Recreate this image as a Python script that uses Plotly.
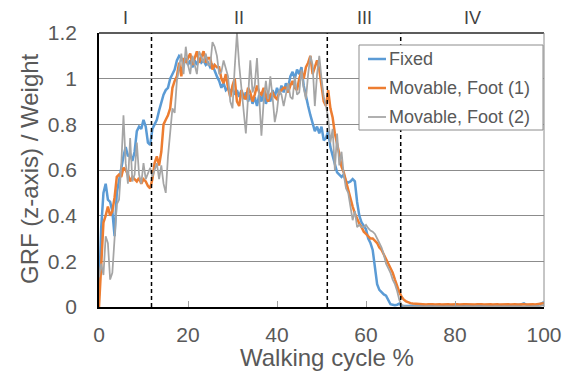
import plotly.graph_objects as go

# ---- data (x grid: walking cycle % sampled every 0.5 %) ----
walking_cycle = [i * 0.5 for i in range(201)]

fixed = [
    0.05, 0.35, 0.50, 0.54, 0.47, 0.46, 0.42, 0.31, 0.50, 0.56,
    0.62, 0.66, 0.70, 0.66, 0.67, 0.64, 0.68, 0.77, 0.79, 0.78,
    0.82, 0.79, 0.72, 0.71, 0.78, 0.80, 0.82, 0.86, 0.90, 0.93,
    0.95, 0.96, 1.00, 1.02, 1.04, 1.08, 1.10, 1.09, 1.07, 1.09,
    1.06, 1.08, 1.05, 1.08, 1.06, 1.09, 1.07, 1.08, 1.06, 1.07,
    1.05, 1.06, 1.03, 1.01, 0.99, 0.96, 0.98, 0.95, 0.96, 0.94,
    0.96, 0.93, 0.95, 0.92, 0.95, 0.91, 0.94, 0.90, 0.93, 0.89,
    0.92, 0.88, 0.93, 0.90, 0.94, 0.89, 0.92, 0.90, 0.95, 0.92,
    0.96, 0.93, 0.97, 0.94, 0.98, 0.96, 1.01, 1.03, 1.00, 1.04,
    1.02, 1.05, 0.97, 0.92, 0.88, 0.84, 0.80, 0.77, 0.79, 0.76,
    0.79, 0.73, 0.74, 0.77, 0.70, 0.66, 0.62, 0.59, 0.58, 0.57,
    0.58, 0.55, 0.545, 0.55, 0.56, 0.55, 0.46, 0.40, 0.37, 0.355,
    0.34, 0.30, 0.28, 0.25, 0.17, 0.10, 0.075, 0.065, 0.055, 0.05,
    0.03, 0.012, 0.01, 0.008, 0.01, 0.015, 0.005, 0.004, 0.005, 0.004,
    0.005, 0.006, 0.004, 0.005, 0.006, 0.005, 0.004, 0.006, 0.005, 0.004,
    0.005, 0.006, 0.005, 0.004, 0.006, 0.005, 0.004, 0.005, 0.006, 0.005,
    0.006, 0.005, 0.004, 0.006, 0.005, 0.007, 0.006, 0.005, 0.004, 0.006,
    0.005, 0.006, 0.008, 0.006, 0.005, 0.007, 0.006, 0.005, 0.006, 0.008,
    0.006, 0.007, 0.005, 0.006, 0.008, 0.007, 0.006, 0.008, 0.010, 0.008,
    0.012, 0.016, 0.010, 0.007, 0.008, 0.006, 0.007, 0.009, 0.012, 0.016,
    0.022,
]

movable_foot1 = [
    0.0, 0.22, 0.37, 0.40, 0.44, 0.40, 0.42, 0.48, 0.57, 0.58,
    0.57, 0.61, 0.60, 0.58, 0.55, 0.57, 0.56, 0.55, 0.565, 0.54,
    0.56, 0.55, 0.53, 0.52, 0.56, 0.63, 0.66, 0.62, 0.68, 0.80,
    0.82, 0.84, 0.87, 0.96, 0.99, 1.01, 1.07, 1.01, 1.09, 1.07,
    1.09, 1.11, 1.06, 1.09, 1.12, 1.07, 1.10, 1.12, 1.07, 1.09,
    1.09, 1.04, 1.06, 1.05, 1.05, 1.00, 0.98, 1.02, 0.96, 0.92,
    0.97, 1.00, 0.90, 0.88, 0.95, 0.92, 0.91, 0.96, 0.94, 0.90,
    0.93, 0.97, 0.94, 0.93, 0.96, 0.93, 0.90, 0.93, 0.94, 0.92,
    0.91, 0.94, 0.95, 0.96, 0.96, 0.94, 0.97, 0.99, 0.96, 0.95,
    1.00, 1.03, 1.00, 1.05, 1.07, 1.10, 1.02, 1.05, 1.08, 1.04,
    0.98, 0.90, 0.88, 0.95, 0.87, 0.83, 0.76, 0.72, 0.67, 0.615,
    0.59, 0.55, 0.51, 0.475, 0.44, 0.41, 0.385, 0.365, 0.35, 0.33,
    0.32, 0.31, 0.30, 0.30, 0.29, 0.28, 0.26, 0.25, 0.23, 0.21,
    0.19, 0.17, 0.15, 0.12, 0.09, 0.065, 0.045, 0.032, 0.025, 0.02,
    0.017, 0.015, 0.014, 0.013, 0.012, 0.013, 0.012, 0.011, 0.012, 0.013,
    0.012, 0.011, 0.013, 0.012, 0.011, 0.012, 0.013, 0.012, 0.011, 0.012,
    0.013, 0.012, 0.011, 0.013, 0.012, 0.012, 0.011, 0.013, 0.012, 0.011,
    0.012, 0.013, 0.012, 0.011, 0.012, 0.013, 0.012, 0.011, 0.013, 0.012,
    0.011, 0.012, 0.013, 0.012, 0.012, 0.011, 0.013, 0.012, 0.011, 0.012,
    0.013, 0.012, 0.011, 0.012, 0.013, 0.012, 0.011, 0.012, 0.013, 0.014,
    0.016,
]

movable_foot2 = [
    0.13, 0.19, 0.14, 0.31, 0.28, 0.12, 0.15, 0.32, 0.45, 0.47,
    0.62, 0.84, 0.63, 0.54, 0.74, 0.55, 0.58, 0.72, 0.58, 0.54,
    0.63, 0.56, 0.59, 0.61, 0.57, 0.60, 0.63, 0.56, 0.62, 0.54,
    0.50, 0.66, 0.78, 0.87, 0.85, 0.99, 1.05, 1.11, 1.02, 1.14,
    1.06, 1.02, 1.10, 1.06, 1.02, 1.12, 1.09, 1.07, 1.11, 1.06,
    1.06, 1.16, 1.14, 1.10, 1.02, 1.03, 1.08, 1.05, 1.01, 0.90,
    0.87, 1.05, 1.20, 1.06, 0.95, 0.85, 0.76, 0.92, 1.08, 0.94,
    0.97, 1.09, 0.90, 0.75, 0.90, 0.99, 0.91, 1.01, 0.92, 0.81,
    0.86, 0.95, 0.93, 0.88, 0.93, 0.98, 0.92, 0.91, 1.01, 0.93,
    0.94, 1.04, 0.96, 0.91, 1.02, 1.10, 1.06, 0.88, 1.02, 1.10,
    1.00, 0.92, 0.88, 0.83, 0.72, 0.78, 0.60, 0.76, 0.62, 0.68,
    0.58, 0.52, 0.50, 0.44, 0.38, 0.42, 0.35, 0.36, 0.35, 0.35,
    0.36, 0.345, 0.335, 0.33, 0.32, 0.30, 0.28, 0.26, 0.23, 0.19,
    0.17, 0.15, 0.12, 0.10, 0.07, 0.03, 0.01, 0.004, 0.003, 0.002,
    0.003, 0.002, 0.003, 0.002, 0.003, 0.002, 0.002, 0.003, 0.002, 0.003,
    0.002, 0.003, 0.002, 0.002, 0.003, 0.002, 0.003, 0.002, 0.003, 0.002,
    0.003, 0.002, 0.003, 0.002, 0.002, 0.003, 0.002, 0.003, 0.002, 0.003,
    0.002, 0.003, 0.002, 0.003, 0.002, 0.002, 0.003, 0.002, 0.003, 0.002,
    0.003, 0.002, 0.003, 0.002, 0.003, 0.002, 0.003, 0.002, 0.002, 0.003,
    0.002, 0.003, 0.002, 0.003, 0.002, 0.003, 0.002, 0.003, 0.004, 0.006,
    0.008,
]

series_names = ["Fixed", "Movable, Foot (1)", "Movable, Foot (2)"]
series_colors = ["#5B9BD5", "#ED7D31", "#A5A5A5"]
series_widths = [2.5, 2.5, 1.75]

phase_bounds = [0, 11.8, 51.3, 67.8, 100]
phase_labels = ["I", "II", "III", "IV"]

x_ticks = [0, 20, 40, 60, 80, 100]
y_ticks = [0, 0.2, 0.4, 0.6, 0.8, 1.0, 1.2]
y_ticktext = ["0", "0.2", "0.4", "0.6", "0.8", "1", "1.2"]

x_title = "Walking cycle %"
y_title = "GRF (z-axis) / Weight"

FONT = "Liberation Sans, Arial, sans-serif"
TXT = "#595959"

# ---- layout geometry (pixels) ----
W, H = 573, 372
L, R, T, B = 99, 544, 33, 307


def px_x(p):
    return (p - L) / (R - L)


def px_y(p):
    return (B - p) / (B - T)


fig = go.Figure()
for name, ys, col, lw in zip(series_names, [fixed, movable_foot1, movable_foot2],
                             series_colors, series_widths):
    fig.add_trace(go.Scatter(x=walking_cycle, y=ys, mode="lines", name=name,
                             line=dict(color=col, width=lw), showlegend=False))

shapes = []
annotations = []
# phase boundary dashed lines
for b in phase_bounds[1:-1]:
    shapes.append(dict(type="line", xref="x", yref="paper", x0=b, x1=b, y0=0, y1=1,
                       line=dict(color="black", width=1.5, dash="4px,3px")))
# phase labels
for i, lab in enumerate(phase_labels):
    xm = (phase_bounds[i] + phase_bounds[i + 1]) / 2
    annotations.append(dict(text=lab, xref="x", yref="paper", x=xm, y=px_y(18),
                            showarrow=False, xanchor="center", yanchor="middle",
                            font=dict(family=FONT, size=18, color="#404040")))
# axis titles
annotations.append(dict(text=x_title, xref="paper", yref="paper", x=px_x(327), y=px_y(357),
                        showarrow=False, xanchor="center", yanchor="middle",
                        font=dict(family=FONT, size=24, color=TXT)))
annotations.append(dict(text=y_title, xref="paper", yref="paper", x=px_x(29), y=px_y(169),
                        showarrow=False, xanchor="center", yanchor="middle", textangle=-90,
                        font=dict(family=FONT, size=24, color=TXT)))
# top & right border
shapes.append(dict(type="line", xref="paper", yref="paper", x0=0, x1=1, y0=1, y1=1,
                   line=dict(color="#262626", width=1.5)))
shapes.append(dict(type="line", xref="paper", yref="paper", x0=1, x1=1, y0=0, y1=1,
                   line=dict(color="#8C8C8C", width=1)))

# custom legend
shapes.append(dict(type="rect", xref="paper", yref="paper",
                   x0=px_x(359), x1=px_x(543), y0=px_y(130), y1=px_y(45),
                   fillcolor="white", line=dict(color="#8C8C8C", width=1), layer="above"))
for i, (name, col, lw) in enumerate(zip(series_names, series_colors, series_widths)):
    yy = px_y(59 + 29 * i)
    shapes.append(dict(type="line", xref="paper", yref="paper", x0=px_x(368), x1=px_x(386),
                       y0=yy, y1=yy, line=dict(color=col, width=lw), layer="above"))
    annotations.append(dict(text=name, xref="paper", yref="paper", x=px_x(387), y=yy,
                            showarrow=False, xanchor="left", yanchor="middle",
                            font=dict(family=FONT, size=18, color=TXT)))

fig.update_layout(
    width=W, height=H, autosize=False,
    margin=dict(l=L, r=W - R, t=T, b=H - B, autoexpand=False),
    paper_bgcolor="white", plot_bgcolor="white",
    shapes=shapes, annotations=annotations,
    font=dict(family=FONT, color=TXT),
    xaxis=dict(range=[0, 100], tickvals=x_ticks, showgrid=False, zeroline=False,
               showline=True, linecolor="black", linewidth=1.5, automargin=False,
               ticks="inside", ticklen=6, tickcolor="#A0A0A0", tickwidth=1,
               tickfont=dict(family=FONT, size=21, color=TXT), ticklabelstandoff=8),
    yaxis=dict(range=[0, 1.2], tickvals=y_ticks, ticktext=y_ticktext,
               showgrid=True, gridcolor="#8C8C8C", gridwidth=1, zeroline=False,
               showline=True, linecolor="black", linewidth=1.5, ticks="", automargin=False,
               tickfont=dict(family=FONT, size=21, color=TXT), ticklabelstandoff=16),
)

fig.write_html("out.html", config={"displayModeBar": False},
               post_script="document.body.style.margin='0';document.body.style.overflow='hidden';")
